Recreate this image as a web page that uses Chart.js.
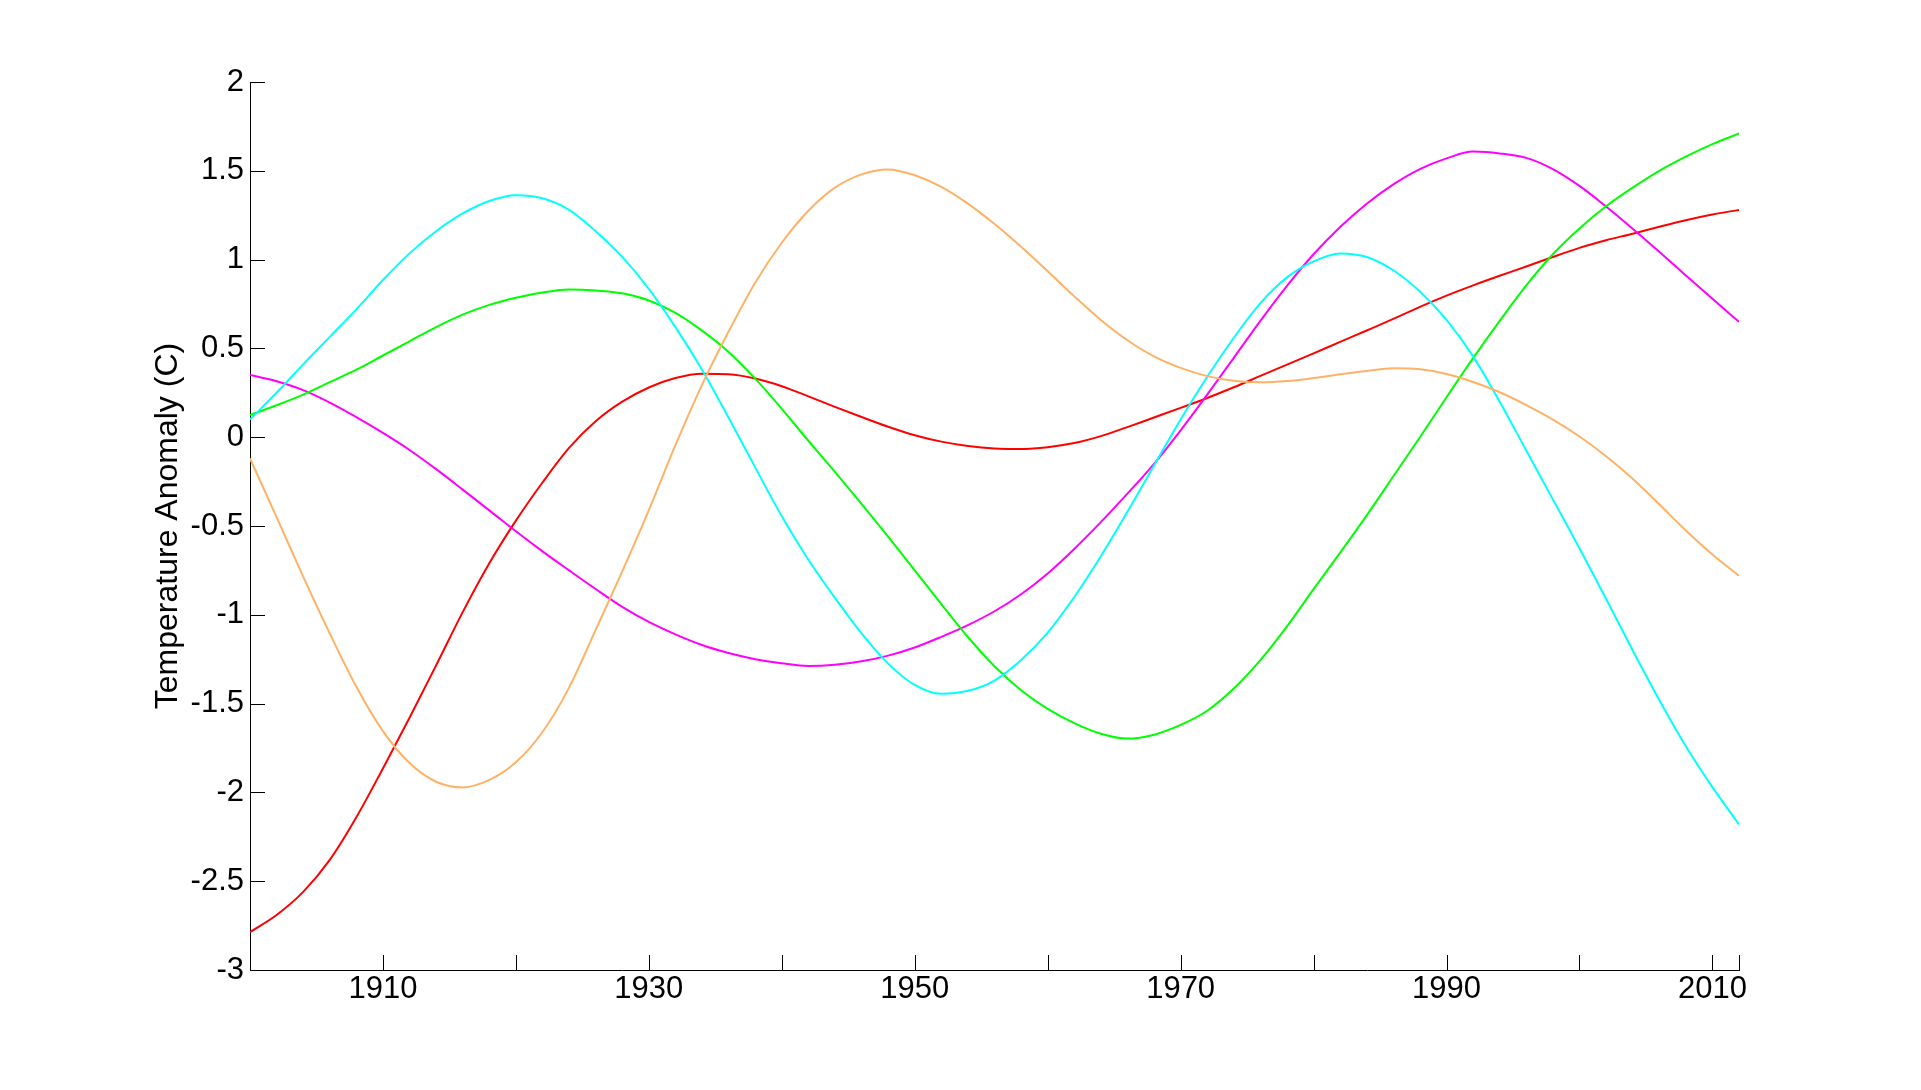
<!DOCTYPE html>
<html>
<head>
<meta charset="utf-8">
<script src="https://cdn.jsdelivr.net/npm/chart.js@4.4.1/dist/chart.umd.min.js"></script>
<style>
  html, body { margin: 0; padding: 0; background: #fff; }
  canvas { display: block; }
</style>
</head>
<body>
<canvas id="c" width="1921" height="1090"></canvas>
<script>
// ---- data ----
const years = [1900,1902,1904,1906,1908,1910,1912,1914,1916,1918,1920,1922,1924,1926,1928,1930,1932,1934,1936,1938,1940,1942,1944,1946,1948,1950,1952,1954,1956,1958,1960,1962,1964,1966,1968,1970,1972,1974,1976,1978,1980,1982,1984,1986,1988,1990,1992,1994,1996,1998,2000,2002,2004,2006,2008,2010,2012];

const redSeries = [-2.786,-2.69,-2.56,-2.38,-2.14,-1.865,-1.58,-1.285,-0.985,-0.71,-0.47,-0.255,-0.06,0.09,0.20,0.28,0.333,0.357,0.354,0.33,0.287,0.23,0.171,0.114,0.059,0.011,-0.025,-0.049,-0.063,-0.066,-0.056,-0.033,0.006,0.057,0.111,0.165,0.221,0.281,0.345,0.409,0.472,0.537,0.601,0.666,0.734,0.797,0.855,0.909,0.961,1.015,1.066,1.109,1.146,1.185,1.222,1.254,1.28];
const greenSeries = [0.125,0.18,0.24,0.31,0.38,0.46,0.54,0.62,0.69,0.745,0.785,0.815,0.832,0.826,0.81,0.77,0.70,0.60,0.48,0.33,0.16,-0.02,-0.195,-0.375,-0.56,-0.75,-0.94,-1.125,-1.29,-1.425,-1.53,-1.61,-1.67,-1.697,-1.675,-1.62,-1.54,-1.415,-1.255,-1.065,-0.855,-0.65,-0.44,-0.22,0.00,0.225,0.445,0.655,0.855,1.03,1.175,1.30,1.405,1.50,1.58,1.65,1.71];
const cyanSeries = [0.10,0.25,0.41,0.565,0.72,0.885,1.035,1.16,1.26,1.33,1.362,1.345,1.28,1.16,1.015,0.835,0.62,0.38,0.11,-0.17,-0.445,-0.69,-0.905,-1.105,-1.275,-1.395,-1.445,-1.428,-1.37,-1.255,-1.1,-0.9,-0.67,-0.42,-0.16,0.1,0.34,0.56,0.755,0.9,0.99,1.035,1.015,0.94,0.82,0.66,0.455,0.2,-0.075,-0.35,-0.625,-0.91,-1.2,-1.48,-1.74,-1.97,-2.18];
const magentaSeries = [0.35,0.315,0.265,0.195,0.113,0.024,-0.072,-0.18,-0.295,-0.412,-0.53,-0.643,-0.75,-0.855,-0.955,-1.04,-1.11,-1.17,-1.215,-1.25,-1.273,-1.288,-1.281,-1.262,-1.23,-1.184,-1.124,-1.058,-0.98,-0.884,-0.767,-0.629,-0.478,-0.318,-0.15,0.039,0.24,0.447,0.655,0.852,1.03,1.184,1.315,1.424,1.51,1.57,1.608,1.598,1.573,1.51,1.415,1.299,1.174,1.044,0.911,0.779,0.65];
const orangeSeries = [-0.12,-0.45,-0.785,-1.105,-1.405,-1.655,-1.835,-1.94,-1.972,-1.93,-1.83,-1.66,-1.41,-1.085,-0.755,-0.41,-0.045,0.295,0.595,0.87,1.095,1.275,1.405,1.48,1.508,1.475,1.41,1.315,1.2,1.072,0.934,0.793,0.66,0.546,0.455,0.39,0.344,0.318,0.309,0.316,0.333,0.354,0.373,0.388,0.382,0.356,0.311,0.253,0.181,0.099,0.004,-0.107,-0.234,-0.378,-0.525,-0.66,-0.78];

const xTickValues = [1900,1910,1920,1930,1940,1950,1960,1970,1980,1990,2000,2010,2012];
const xLabelYears = [1910,1930,1950,1970,1990,2010];
const yAxisTitle = 'Temperature Anomaly (C)';

// ---- chart ----
const FONT = '"Liberation Sans", Arial, sans-serif';
const toPoints = arr => arr.map((v, i) => ({ x: years[i], y: v }));

const inwardTicks = {
  id: 'inwardTicks',
  afterDraw(chart) {
    const { ctx, chartArea, scales: { x, y } } = chart;
    ctx.save();
    ctx.strokeStyle = '#000';
    ctx.lineWidth = 1;
    ctx.beginPath();
    x.ticks.forEach(t => {
      const px = Math.round(x.getPixelForValue(t.value)) + 0.5;
      ctx.moveTo(px, chartArea.bottom);
      ctx.lineTo(px, chartArea.bottom - 15);
    });
    y.ticks.forEach(t => {
      const py = Math.round(y.getPixelForValue(t.value)) + 0.5;
      ctx.moveTo(chartArea.left, py);
      ctx.lineTo(chartArea.left + 15, py);
    });
    ctx.stroke();
    ctx.restore();
  }
};

const mk = (data, color) => ({
  data: toPoints(data),
  borderColor: color,
  backgroundColor: color,
  borderWidth: 2,
  pointRadius: 0,
  cubicInterpolationMode: 'monotone',
  fill: false
});

new Chart(document.getElementById('c'), {
  type: 'line',
  data: {
    datasets: [
      mk(orangeSeries, '#ffb266'),
      mk(cyanSeries, '#00ffff'),
      mk(greenSeries, '#00ff00'),
      mk(magentaSeries, '#ff00ff'),
      mk(redSeries, '#ff0000')
    ]
  },
  options: {
    responsive: false,
    animation: false,
    layout: { padding: { left: 0, top: 82, right: 182, bottom: 0 } },
    plugins: { legend: { display: false }, tooltip: { enabled: false } },
    scales: {
      x: {
        type: 'linear',
        min: 1900,
        max: 2012,
        grid: { display: false, drawTicks: false },
        border: { display: true, color: '#000', width: 1 },
        afterBuildTicks: axis => { axis.ticks = xTickValues.map(v => ({ value: v })); },
        ticks: {
          autoSkip: false,
          maxRotation: 0,
          padding: 1,
          color: '#000',
          font: { family: FONT, size: 31 },
          callback: v => xLabelYears.includes(v) ? String(v) : ''
        },
        afterFit: s => { s.height = 120; }
      },
      y: {
        type: 'linear',
        min: -3,
        max: 2,
        grid: { display: false, drawTicks: false },
        border: { display: true, color: '#000', width: 1 },
        ticks: {
          stepSize: 0.5,
          padding: 6,
          color: '#000',
          font: { family: FONT, size: 31 },
          callback: v => String(Number(v.toFixed(1)))
        },
        title: {
          display: true,
          text: yAxisTitle,
          color: '#000',
          font: { family: FONT, size: 32 },
          padding: { top: 149, bottom: 0 }
        },
        afterFit: s => { s.width = 250; }
      }
    }
  },
  plugins: [inwardTicks]
});
</script>
</body>
</html>
